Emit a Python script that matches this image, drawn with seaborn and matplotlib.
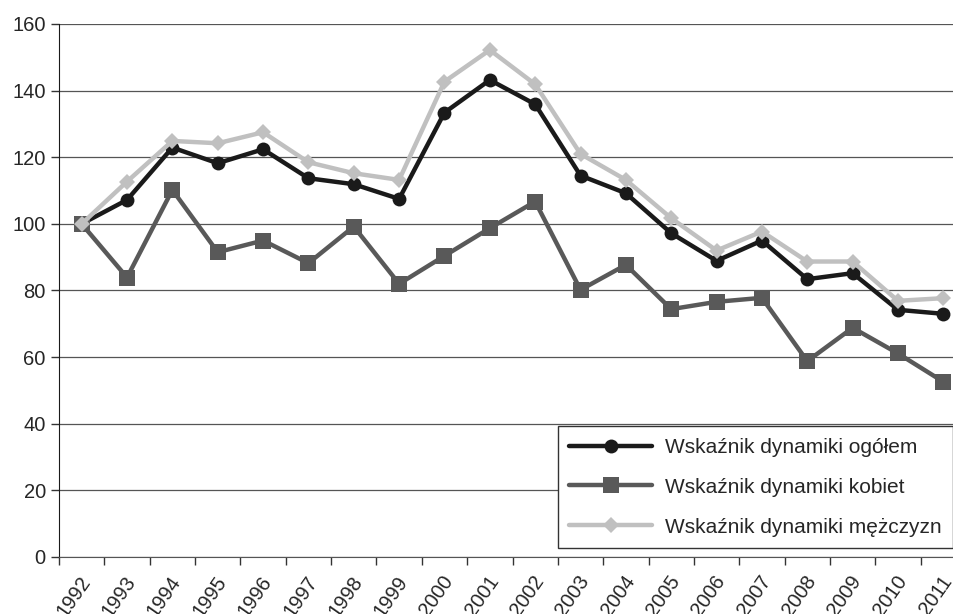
import numpy as np
import pandas as pd
import seaborn as sns
import matplotlib.pyplot as plt
import matplotlib.transforms as mtransforms

years = list(range(1992, 2012))
ogolem = [100, 107.2, 122.9, 118.2, 122.4, 113.7, 111.9, 107.5, 133.4, 143.2,
          135.9, 114.5, 109.2, 97.2, 88.9, 95.0, 83.4, 85.2, 74.2, 73.0]
kobiet = [100, 83.9, 110.2, 91.5, 95.0, 88.2, 99.2, 82.0, 90.4, 98.7,
          106.7, 80.2, 87.7, 74.4, 76.6, 77.8, 58.8, 68.8, 61.1, 52.6]
mezczyzn = [100, 112.7, 124.9, 124.2, 127.5, 118.5, 115.2, 113.2, 142.7, 152.2,
            141.9, 121.0, 113.2, 101.7, 92.0, 97.7, 88.7, 88.7, 76.9, 77.7]

series_names = ["Wskaźnik dynamiki ogółem", "Wskaźnik dynamiki kobiet", "Wskaźnik dynamiki mężczyzn"]
colors = ["#1a1a1a", "#595959", "#c0c0c0"]
markers = ["o", "s", "D"]
msizes = [10, 11, 8]

df = pd.DataFrame({"rok": years * 3,
                   "wartosc": ogolem + kobiet + mezczyzn,
                   "seria": [n for n in series_names for _ in years]})

sns.set_style("white")
plt.rcParams['font.family'] = ['Liberation Sans', 'DejaVu Sans']

fig = plt.figure(figsize=(9.54, 6.14), dpi=100)
# axes runs a bit past the right edge, like in the original
ax = fig.add_axes([59 / 954, 57 / 614, 907 / 954, 533 / 614])

for name, c, m, ms in zip(series_names, colors, markers, msizes):
    sns.lineplot(data=df[df["seria"] == name], x="rok", y="wartosc", ax=ax,
                 color=c, marker=m, markersize=ms, markeredgewidth=0,
                 linewidth=3.2, label=name)

ax.set_xlim(1991.5, 2011.5)
ax.set_ylim(0, 160)
ax.set_yticks(np.arange(0, 161, 20))
ax.yaxis.grid(True, color="#555555", linewidth=0.9)
ax.set_axisbelow(True)
ax.set_xlabel("")
ax.set_ylabel("")

ax.set_xticks(years)
ax.set_xticklabels([str(y) for y in years], rotation=55, ha="right",
                   rotation_mode="anchor", fontsize=14.5)
ax.set_xticks(np.arange(1991.5, 2012, 1), minor=True)
ax.tick_params(axis="x", which="major", length=0, pad=11)
ax.tick_params(axis="x", which="minor", length=6, width=1, color="#333333", bottom=True)
ax.tick_params(axis="y", length=6, width=1, color="#333333", left=True, labelsize=14.5)
offset = mtransforms.ScaledTranslation(-3 / 100, 0, fig.dpi_scale_trans)
for lab in ax.get_xticklabels():
    lab.set_transform(lab.get_transform() + offset)

for s in ["top", "right"]:
    ax.spines[s].set_visible(False)
ax.spines["left"].set_color("#1a1a1a")
ax.spines["bottom"].set_color("#555555")

leg = ax.legend(loc="lower right", bbox_to_anchor=(953 / 954, 66 / 614),
                bbox_transform=fig.transFigure, fontsize=15, frameon=True,
                fancybox=False, edgecolor="#333333", framealpha=1,
                handlelength=4, handletextpad=0.6, labelspacing=1.0,
                borderpad=0.55, borderaxespad=0)
leg.get_frame().set_linewidth(1)

fig.savefig("out.png", dpi=100)
